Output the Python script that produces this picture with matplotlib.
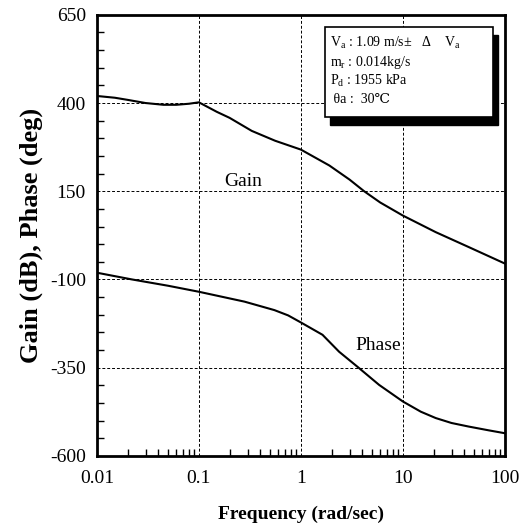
import numpy as np
import matplotlib
matplotlib.use("Agg")
import matplotlib.pyplot as plt
from matplotlib.patches import Rectangle
from matplotlib.ticker import FixedLocator, NullFormatter, LogLocator

plt.rcParams['font.family'] = ['Liberation Serif', 'DejaVu Serif']
plt.rcParams['mathtext.fontset'] = 'custom'
plt.rcParams['mathtext.rm'] = 'Liberation Serif'
plt.rcParams['mathtext.it'] = 'Liberation Serif:italic'
plt.rcParams['axes.unicode_minus'] = False

# -----------------------------------
# DATA
# -----------------------------------
gain_freq = [0.01, 0.015, 0.02, 0.03, 0.045, 0.06, 0.08, 0.1, 0.15, 0.2, 0.33, 0.56,
             1, 1.9, 3, 4.17, 6, 10, 21, 44, 100]
gain_val = [420, 415, 409, 400, 395, 395, 398, 402, 375, 358, 321, 293,
            268, 223, 183, 150, 118, 81, 34, -8, -55]

phase_freq = [0.01, 0.022, 0.05, 0.1, 0.28, 0.55, 0.75, 1, 1.63, 2.37, 3.67, 5.85,
              10, 15, 21, 30, 44, 70, 100]
phase_val = [-81, -100, -118, -135, -163, -187, -202, -222, -257, -305, -350, -399,
             -446, -475, -493, -507, -517, -528, -536]

y_ticks = [-600, -350, -100, 150, 400, 650]
x_ticks = [0.01, 0.1, 1, 10, 100]
x_tick_labels = ['0.01', '0.1', '1', '10', '100']

info_lines = [
    r"V$_{\rm a}$ : 1.09 m/s$\pm$   $\Delta$    V$_{\rm a}$",
    r"m$_{\rm r}$ : 0.014kg/s",
    r"P$_{\rm d}$ : 1955 kPa",
    " θa :  30℃",
]

# -----------------------------------
# FIGURE
# -----------------------------------
fig = plt.figure(figsize=(5.21, 5.30), dpi=100)
ax = fig.add_axes([0.186, 0.14, 0.783, 0.832])

ax.plot(gain_freq, gain_val, color='black', lw=1.5)
ax.plot(phase_freq, phase_val, color='black', lw=1.5)

ax.set_xscale('log')
ax.set_xlim(0.01, 100)
ax.set_ylim(-600, 650)

ax.set_xticks(x_ticks)
ax.set_xticklabels(x_tick_labels)
ax.xaxis.set_minor_locator(LogLocator(base=10, subs=np.arange(2, 10)))
ax.xaxis.set_minor_formatter(NullFormatter())
ax.set_yticks(y_ticks)
ax.yaxis.set_minor_locator(FixedLocator(np.arange(-600, 651, 50)))

ax.tick_params(which='both', direction='in', top=False, right=False, labelsize=14)
ax.tick_params(which='major', length=0)
ax.tick_params(axis='x', which='major', pad=10)
ax.tick_params(axis='y', which='major', pad=8)
ax.tick_params(which='minor', length=5, width=1)

ax.grid(True, which='major', linestyle=(0, (3, 2)), color='black', lw=0.7)

for s in ax.spines.values():
    s.set_linewidth(2)

ax.set_xlabel('Frequency (rad/sec)', fontsize=14, fontweight='bold', labelpad=14)
ax.set_ylabel('Gain (dB), Phase (deg)', fontsize=19, fontweight='bold', labelpad=5)

ax.text(0.27, 178, 'Gain', fontsize=14, ha='center', va='center')
ax.text(5.75, -286, 'Phase', fontsize=14, ha='center', va='center')

# info box with shadow
bx0, by0, bw, bh = 0.559, 0.769, 0.412, 0.204
ax.add_patch(Rectangle((bx0 + 0.013, by0 - 0.018), bw, bh, transform=ax.transAxes,
                       facecolor='black', edgecolor='black', zorder=4))
ax.add_patch(Rectangle((bx0, by0), bw, bh, transform=ax.transAxes,
                       facecolor='white', edgecolor='black', lw=1.2, zorder=5))
for i, line in enumerate(info_lines):
    ax.text(bx0 + 0.012, by0 + bh - 0.037 - i * 0.043, line, transform=ax.transAxes,
            fontsize=10, va='center', ha='left', zorder=6)

fig.savefig('out.png', dpi=100)
